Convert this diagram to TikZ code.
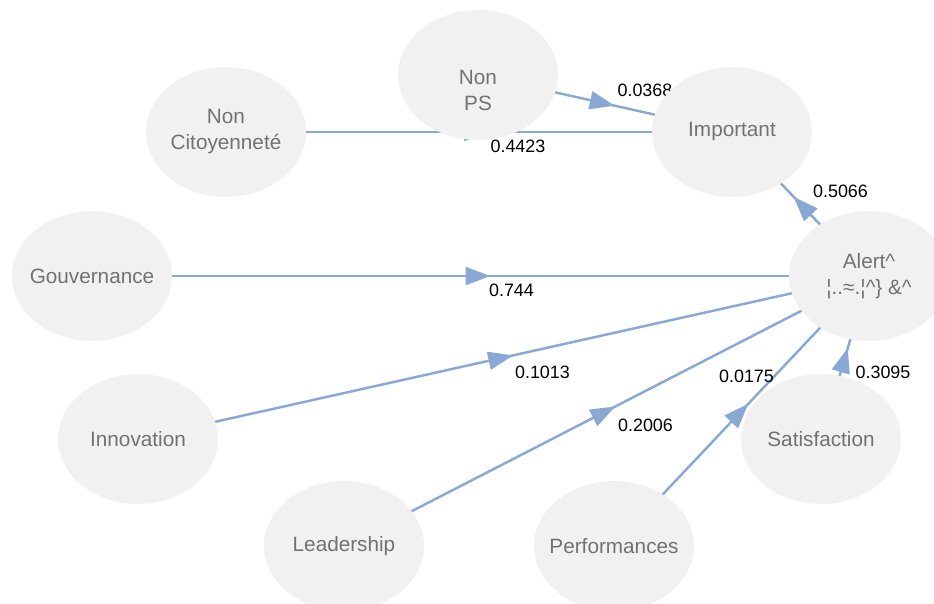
\documentclass[tikz,border=0pt]{standalone}
\usepackage{fontspec}
\setmainfont{Liberation Sans}
\usetikzlibrary{positioning, calc, backgrounds, shapes.geometric, decorations.markings, arrows.meta}
\definecolor{nodegray}{HTML}{F1F1F1}
\definecolor{textgray}{HTML}{727272}
\definecolor{edgeblue}{HTML}{8AA8D4}

\begin{document}
\begin{tikzpicture}[
    x=0.02cm, y=-0.02cm,
    latent/.style={
        ellipse,
        fill=nodegray,
        minimum width=3.2cm,
        minimum height=2.6cm,
        inner sep=-0.3cm,
        align=center,
        text=textgray,
        font=\fontsize{11.8}{14.8}\selectfont
    },
    link/.style={
        draw=edgeblue,
        line width=1.4pt,
        postaction={decorate},
        decoration={markings,
            mark=at position 0.5 with {\arrow[edgeblue, xshift=0.2cm]{Triangle[length=5mm, width=3.6mm]}}}
    },
    coef/.style={font=\fontsize{10.2}{12}\selectfont, text=black, inner sep=0pt}
]

% --- FRAME ---
\useasboundingbox (0,0) rectangle (934,603);
\clip (0,0) rectangle (934,603);

% --- CONSTRUCTS ---
\node[latent] (nonps) at (478,75) {\strut\\Non\\PS};
\node[latent] (noncit) at (226,132) {Non\\Citoyenneté};
\node[latent] (important) at (732,132) {Important};
\node[latent] (gouv) at (92,276) {Gouvernance};
\node[latent] (alert) at (869,276) {Alert\^{}\\¦..≈.¦\^{}\} \&\^{}};
\node[latent] (innov) at (138,439) {Innovation};
\node[latent] (leader) at (344,546) {Leadership};
\node[latent] (perf) at (614,546) {Performances};
\node[latent] (satis) at (821,439) {Satisfaction};

% --- PATHS ---
\begin{scope}[on background layer]
    \draw[link] (noncit.center) -- (important.center)
        node[coef, pos=0.5, xshift=0.78cm, yshift=-0.28cm] {0.4423};
    \draw[link] (nonps.center) -- (important.center)
        node[coef, pos=0.5, xshift=0.8cm, yshift=0.26cm] {0.0368};
    \draw[link] (gouv.center) -- (alert.center)
        node[coef, pos=0.5, xshift=0.62cm, yshift=-0.28cm] {0.744};
    \draw[link] (innov.center) -- (alert.center)
        node[coef, pos=0.5, xshift=0.78cm, yshift=-0.3cm] {0.1013};
    \draw[link] (leader.center) -- (alert.center)
        node[coef, pos=0.5, xshift=0.78cm, yshift=-0.28cm] {0.2006};
    \draw[link] (perf.center) -- (alert.center)
        node[coef, pos=0.5, xshift=0.1cm, yshift=0.7cm] {0.0175};
    \draw[link] (satis.center) -- (alert.center)
        node[coef, pos=0.5, xshift=0.76cm, yshift=-0.3cm] {0.3095};
    \draw[link] (alert.center) -- (important.center)
        node[coef, pos=0.5, xshift=0.8cm, yshift=0.26cm] {0.5066};
\end{scope}

\end{tikzpicture}
\end{document}
